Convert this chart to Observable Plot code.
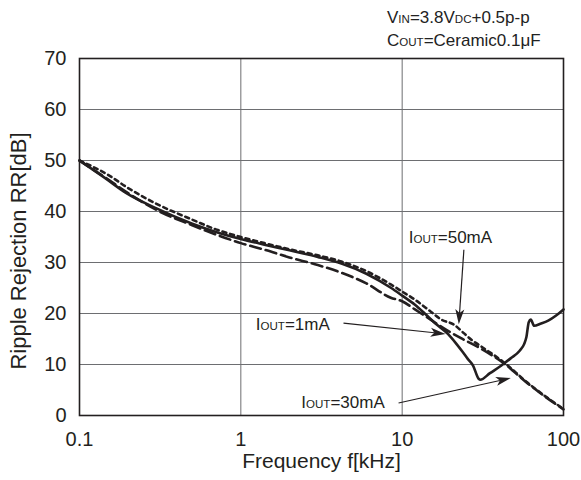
<!DOCTYPE html>
<html><head><meta charset="utf-8">
<script src="https://cdn.jsdelivr.net/npm/d3@7"></script>
<script src="https://cdn.jsdelivr.net/npm/@observablehq/plot@0.6"></script>
<style>
body{margin:0;background:#fff;font-family:"Liberation Sans",Arial,sans-serif}
#wrap{position:relative;width:581px;height:480px}
#hdr{position:absolute;left:387px;top:9px;font-size:17px;color:#222;white-space:nowrap}
#hdr div{height:23px;line-height:17px}
.s{font-size:0.68em}
</style></head><body>
<div id="wrap"><div id="hdr"><div>V<span class="s">IN</span>=3.8V<span class="s">DC</span>+0.5p-p</div><div>C<span class="s">OUT</span>=Ceramic0.1μF</div></div></div>
<script>
const freqTicks = [0.1, 1, 10, 100];
const dbTicks = [0, 10, 20, 30, 40, 50, 60, 70];

const f1mA  = [0.1,0.145,0.193,0.3,0.5,0.7,1,1.4,2,3,4.2,6,8.55,10,12,13.8,16,19.2,21.5,23.8,25.5,27.5,29.8,30.5,35,41.2,47,53.5,57,58.9,60.9,62.7,65.8,72,80.4,90,100];
const rr1mA = [50,46.5,43.7,40.6,37.6,36,34.6,33.5,32.4,31.1,29.8,27.8,25,23.5,21.7,20,18.1,16,14.2,12.4,11.1,9.8,7.2,7.0,8.3,9.8,11.2,12.7,14,15.4,18.3,18.8,17.6,18.0,18.6,19.6,20.8];

const f30mA  = [0.1,0.15,0.2,0.3,0.5,0.7,1,1.4,2,3,4.2,6,8.5,10,12,15,19,23,30,42,60,80,100];
const rr30mA = [50,46.3,43.6,40.3,37.3,35.5,33.8,32.5,31,29.5,28,25.9,23.1,22.4,20.8,18.8,16.7,15.2,13.3,10.4,6.3,3.3,1.2];

const f50mA  = [0.1,0.15,0.2,0.3,0.5,0.7,1,1.4,2,3,4.2,6,8.5,10,12,15,17.5,21,24,27,31,42,60,80,100];
const rr50mA = [50,47.2,44.6,41.5,38.4,36.5,35.0,33.8,32.6,31.4,30.2,28.3,25.7,24.3,22.7,20.4,18.8,17.8,16.2,14.8,13.5,10.6,6.4,3.4,1.3];

// annotations (data coordinates: kHz, dB)
const annText = ["50mA", "1mA", "30mA"];
const annX = [19.9, 2.1, 4.3];
const annY = [34.9, 17.8, 2.5];
const arrX1 = [24.3, 4.36, 9.57];
const arrY1 = [32.4, 18.0, 2.35];
const arrX2 = [22.6, 18.7, 47.5];
const arrY2 = [17.8, 15.9, 7.25];

const toRows = (fs, rs) => fs.map((f, i) => ({f, rr: rs[i]}));
const d1 = toRows(f1mA, rr1mA);
const d30 = toRows(f30mA, rr30mA);
const d50 = toRows(f50mA, rr50mA);
const ann = annText.map((t, i) => ({t: "IOUT=" + t, x: annX[i], y: annY[i]}));
const arrows = arrX1.map((x1, i) => ({x1, y1: arrY1[i], x2: arrX2[i], y2: arrY2[i]}));

const ink = "#231f20";

function arrowMark(index, scales) {
  const g = d3.create("svg:g");
  if (!scales || typeof scales.x !== "function") return g.node();
  for (const a of arrows) {
    const x1 = scales.x(a.x1), y1 = scales.y(a.y1), x2 = scales.x(a.x2), y2 = scales.y(a.y2);
    const ang = Math.atan2(y2 - y1, x2 - x1);
    const L = 15, W = 4.5;
    const bx = x2 - L * Math.cos(ang), by = y2 - L * Math.sin(ang);
    const nx = -Math.sin(ang) * W, ny = Math.cos(ang) * W;
    const ix = x2 - (L * 0.75) * Math.cos(ang), iy = y2 - (L * 0.75) * Math.sin(ang);
    g.append("line").attr("x1", x1).attr("y1", y1).attr("x2", ix).attr("y2", iy)
      .attr("stroke", ink).attr("stroke-width", 1.2);
    g.append("path")
      .attr("d", `M${x2},${y2}L${bx + nx},${by + ny}L${ix},${iy}L${bx - nx},${by - ny}Z`)
      .attr("fill", ink);
  }
  return g.node();
}

const plot = Plot.plot({
  width: 581,
  height: 480,
  marginLeft: 79,
  marginRight: 18,
  marginTop: 58,
  marginBottom: 65,
  style: {fontFamily: "'Liberation Sans', Arial, sans-serif", fontSize: "20px", color: ink, background: "#fff"},
  x: {type: "log", domain: [0.1, 100]},
  y: {domain: [0, 70]},
  marks: [
    Plot.gridX(freqTicks, {stroke: "#6d6e71", strokeOpacity: 1, strokeWidth: 1}),
    Plot.gridY(dbTicks, {stroke: "#6d6e71", strokeOpacity: 1, strokeWidth: 1}),
    Plot.frame({stroke: ink, strokeWidth: 1.6}),
    Plot.line(d30, {x: "f", y: "rr", stroke: ink, strokeWidth: 2.6, strokeDasharray: "11,5", curve: "monotone-x"}),
    Plot.line(d50, {x: "f", y: "rr", stroke: ink, strokeWidth: 2.6, strokeDasharray: "4,4", curve: "monotone-x"}),
    Plot.line(d1, {x: "f", y: "rr", stroke: ink, strokeWidth: 2.6, curve: "monotone-x"}),
    arrowMark,
    Plot.text(ann, {x: "x", y: "y", text: "t", fontSize: 17, fill: ink, textAnchor: "middle"}),
    Plot.axisX(freqTicks, {tickSize: 0, tickPadding: 16, tickFormat: d => String(d), label: null, fontSize: 20}),
    Plot.axisY(dbTicks, {tickSize: 0, tickPadding: 13, label: null, fontSize: 20}),
    Plot.text(["Frequency f[kHz]"], {frameAnchor: "bottom", dy: 52, fontSize: 21, fill: ink}),
    Plot.text(["Ripple Rejection RR[dB]"], {frameAnchor: "left", textAnchor: "middle", dx: -61, dy: 14, rotate: -90, fontSize: 22, fill: ink})
  ]
});

// smaller "OUT" in annotation labels
d3.select(plot).selectAll("text").each(function() {
  const t = this.textContent;
  if (t && t.startsWith("IOUT=")) {
    const sel = d3.select(this);
    sel.text(null);
    sel.append("tspan").text("I");
    sel.append("tspan").attr("font-size", "0.68em").text("OUT");
    sel.append("tspan").text(t.slice(4));
  }
});

document.getElementById("wrap").appendChild(plot);
</script>
</body></html>
